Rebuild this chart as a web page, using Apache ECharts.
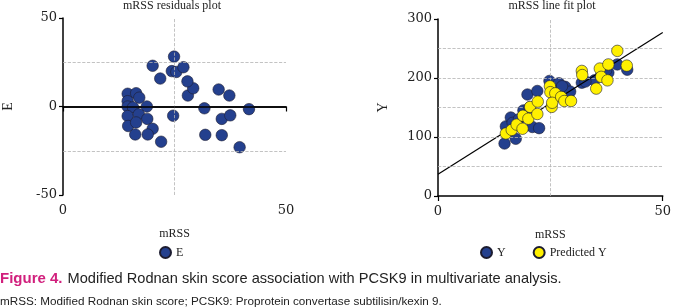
<!DOCTYPE html>
<html>
<head>
<meta charset="utf-8">
<script src="https://cdn.jsdelivr.net/npm/echarts@6/dist/echarts.min.js"></script>
<style>
  html, body { margin: 0; padding: 0; background: #fff; }
  #chart { width: 674px; height: 308px; }
</style>
</head>
<body>
<div id="chart"></div>
<script>
// residuals plot: mRSS vs E
const residMrss = [14.5, 16.4, 17.1, 14.5, 14.5, 15.7, 18.8, 14.5, 17.0, 18.9, 14.6, 16.4, 20.1, 16.2, 19.0, 22.0,
  24.7, 31.7, 35.6, 37.5, 31.9, 35.6, 39.6, 41.7, 34.9, 37.3, 28.0, 29.2, 27.9, 20.1, 21.8, 24.4, 25.4, 27.0, 24.9];
const residE = [7.2, 7.5, 5.0, 3.0, 0.0, -0.5, 0.0, -5.4, -4.4, -7.0, -11.0, -9.0, -12.6, -15.8, -15.8, -19.9,
  -5.2, -1.0, -7.0, -5.0, -16.0, -16.2, -23.0, -1.5, 9.6, 6.2, 6.2, 10.3, 14.2, 23.0, 15.8, 20.0, 19.5, 22.2, 28.2];

// line fit plot: observed Y
const obsMrss = [14.8, 15.1, 16.2, 17.3, 19.9, 22.1, 21.0, 22.5, 24.8, 26.9, 28.3, 29.4, 32.0, 34.8, 37.9, 39.9, 42.1,
  16.6, 18.0, 19.0, 20.4, 25.3, 27.6, 32.8, 36.3, 37.4];
const obsY = [89, 118, 133, 97, 172, 178, 117, 115, 195, 191, 185, 177, 192, 196, 209, 223, 214,
  124, 130, 145, 150, 180, 186, 194, 205, 213];

// line fit plot: predicted Y
const predMrss = [15.1, 16.4, 17.5, 18.8, 18.9, 20.1, 20.5, 22.1, 22.2, 24.9, 25.0, 26.1, 25.3, 25.4, 27.4, 28.1, 29.6,
  32.0, 32.1, 35.2, 36.0, 36.3, 37.7, 37.9, 39.9, 42.0];
const predY = [106, 112, 121, 114, 136, 131, 151, 139, 160, 186, 176, 174, 151, 158, 168, 161, 161,
  212, 205, 182, 216, 202, 196, 223, 246, 221];

// fitted trend line end points
const trendMrss = [0, 50];
const trendY = [37, 277];

const serif = 'Liberation Serif';
const blue = '#24408e';
const yellow = '#fff000';
const edge = '#1c1c30';

const pairs = (xs, ys) => xs.map((x, i) => [x, ys[i]]);

const dashed = { type: 'dashed', color: '#b4b4b4', width: 0.8 };

const xAxisBase = {
  type: 'value', min: 0, max: 50, interval: 50,
  name: 'mRSS', nameLocation: 'middle', nameGap: 33,
  nameTextStyle: { fontFamily: serif, fontSize: 12, color: '#222' },
  axisLine: { show: true, lineStyle: { color: '#000', width: 1.5 } },
  axisTick: { show: true, length: 5, lineStyle: { color: '#000', width: 1.2 } },
  axisLabel: { fontFamily: 'DejaVu Serif', fontSize: 13, color: '#222', margin: 9 },
  splitLine: { show: false }
};

const yAxisBase = {
  type: 'value', nameLocation: 'middle', nameGap: 48,
  nameTextStyle: { fontFamily: serif, fontSize: 14, color: '#222' },
  axisLine: { show: true, lineStyle: { color: '#000', width: 1.5 } },
  axisTick: { show: true, length: 4, lineStyle: { color: '#000', width: 1.2 } },
  axisLabel: { fontFamily: 'DejaVu Serif', fontSize: 13, color: '#222', margin: 6 },
  splitLine: { show: false }
};

const pointStyle = (c) => ({ color: c, borderColor: edge, borderWidth: 0.6, opacity: 1 });

const chart = echarts.init(document.getElementById('chart'), null, { renderer: 'canvas' });

chart.setOption({
  animation: false,
  backgroundColor: '#fff',
  title: [
    { text: 'mRSS residuals plot', left: 172, top: 0, textAlign: 'center', padding: 0,
      textStyle: { fontFamily: serif, fontSize: 12, fontWeight: 'normal', color: '#222' } },
    { text: 'mRSS line fit plot', left: 552, top: 0, textAlign: 'center', padding: 0,
      textStyle: { fontFamily: serif, fontSize: 12, fontWeight: 'normal', color: '#222' } },
    { text: '{a|Figure 4.} {b|Modified Rodnan skin score association with PCSK9 in multivariate analysis.}',
      left: 0, top: 270, padding: 0,
      textStyle: { fontWeight: 'normal', rich: {
        a: { fontFamily: 'Liberation Sans', fontSize: 15, fontWeight: 'bold', color: '#d1207d' },
        b: { fontFamily: 'Liberation Sans', fontSize: 14.6, fontWeight: 'normal', color: '#222' }
      } } },
    { text: 'mRSS: Modified Rodnan skin score; PCSK9: Proprotein convertase subtilisin/kexin 9.',
      left: 0, top: 296, padding: 0,
      textStyle: { fontFamily: 'Liberation Sans', fontSize: 11.7, fontWeight: 'normal', color: '#222' } }
  ],
  legend: [
    { data: ['E'], left: 159, top: 246, itemWidth: 11, itemHeight: 11, icon: 'circle', padding: 0,
      textStyle: { fontFamily: serif, fontSize: 12, color: '#222' } },
    { data: ['Y', 'Predicted Y'], left: 480, top: 246, itemWidth: 11, itemHeight: 11, itemGap: 27,
      icon: 'circle', padding: 0,
      textStyle: { fontFamily: serif, fontSize: 12, color: '#222' } }
  ],
  grid: [
    { left: 58, top: 18, width: 228, height: 177 },
    { left: 438, top: 19, width: 227, height: 177 }
  ],
  xAxis: [
    Object.assign({}, xAxisBase, { gridIndex: 0 }),
    Object.assign({}, xAxisBase, { gridIndex: 1 })
  ],
  yAxis: [
    Object.assign({}, yAxisBase, { gridIndex: 0, name: 'E', min: -50, max: 50, interval: 50 }),
    Object.assign({}, yAxisBase, { gridIndex: 1, name: 'Y', min: 0, max: 300, interval: 100 })
  ],
  series: [
    {
      type: 'scatter', xAxisIndex: 0, yAxisIndex: 0, data: [], z: 1, silent: true,
      markLine: {
        silent: true, symbol: 'none', label: { show: false }, animation: false,
        data: [
          { xAxis: 25, lineStyle: dashed },
          { yAxis: 25, lineStyle: dashed },
          { yAxis: -25, lineStyle: dashed },
          { yAxis: 0, lineStyle: { type: 'solid', color: '#000', width: 1.5 } }
        ]
      }
    },
    {
      type: 'scatter', xAxisIndex: 1, yAxisIndex: 1, data: [], z: 1, silent: true,
      markLine: {
        silent: true, symbol: 'none', label: { show: false }, animation: false,
        lineStyle: dashed,
        data: [{ xAxis: 25 }, { yAxis: 50 }, { yAxis: 100 }, { yAxis: 150 }, { yAxis: 200 }, { yAxis: 250 }]
      }
    },
    {
      name: 'E', type: 'scatter', xAxisIndex: 0, yAxisIndex: 0, z: 3,
      symbolSize: 11.5, itemStyle: pointStyle(blue),
      data: pairs(residMrss, residE)
    },
    {
      name: 'Y', type: 'scatter', xAxisIndex: 1, yAxisIndex: 1, z: 3,
      symbolSize: 11.5, itemStyle: pointStyle(blue),
      data: pairs(obsMrss, obsY)
    },
    {
      type: 'line', xAxisIndex: 1, yAxisIndex: 1, z: 4, symbol: 'none', silent: true,
      lineStyle: { color: '#000', width: 1.2 },
      data: pairs(trendMrss, trendY)
    },
    {
      name: 'Predicted Y', type: 'scatter', xAxisIndex: 1, yAxisIndex: 1, z: 5,
      symbolSize: 11.5, itemStyle: pointStyle(yellow),
      data: pairs(predMrss, predY)
    }
  ]
});
</script>
</body>
</html>
